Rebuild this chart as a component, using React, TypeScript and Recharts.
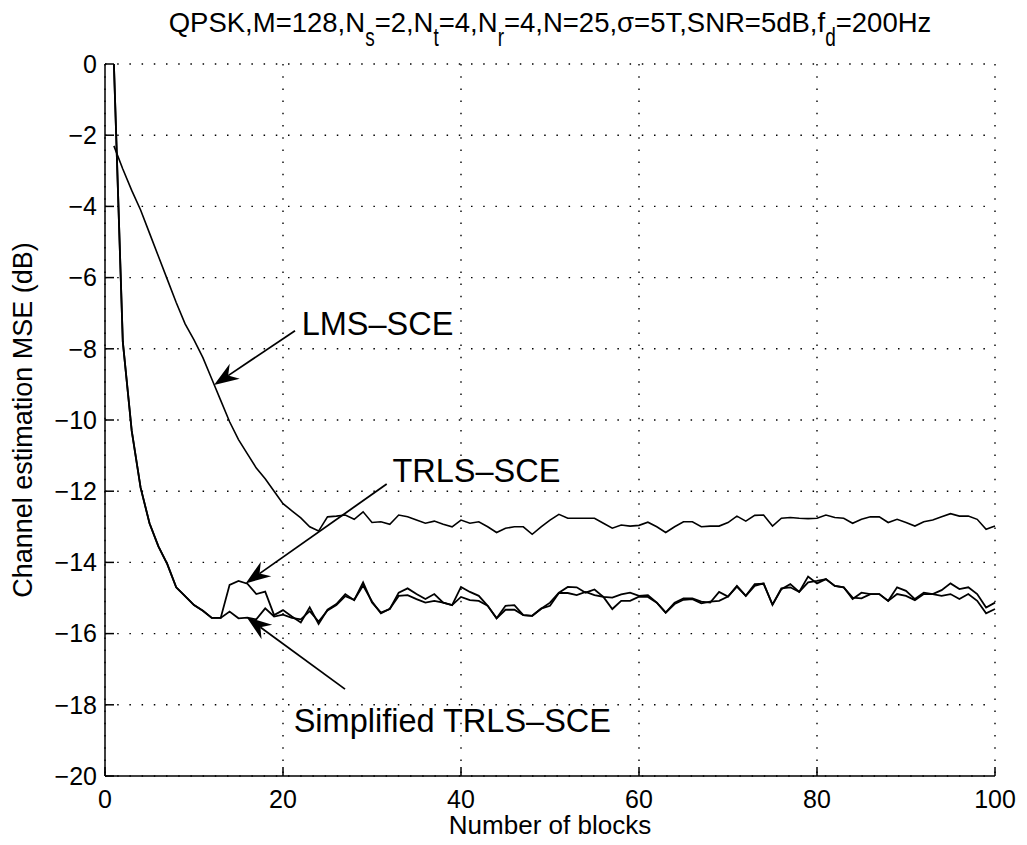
import { CartesianGrid, Line, LineChart, ReferenceDot, ReferenceLine, XAxis, YAxis } from "recharts";

// block index 1..100
const BLOCKS = Array.from({ length: 100 }, (_, i) => i + 1);

const LMS_SCE = [
  -2.3, -2.95, -3.55, -4.1, -4.75, -5.4, -6.05, -6.7, -7.3, -7.75,
  -8.25, -8.85, -9.45, -10.05, -10.55, -10.95, -11.35, -11.65, -12.0, -12.35,
  -12.55, -12.75, -13.0, -13.12, -12.72, -12.7, -12.67, -12.79, -12.58, -12.88,
  -12.86, -12.93, -12.67, -12.72, -12.81, -12.9, -12.84, -12.93, -13.0, -12.81,
  -12.9, -12.86, -13.0, -13.16, -13.04, -13.0, -13.0, -13.21, -13.0, -12.81,
  -12.65, -12.76, -12.76, -12.76, -12.76, -12.9, -13.04, -12.95, -12.98, -12.96,
  -12.87, -13.0, -13.16, -13.0, -12.86, -12.86, -13.0, -12.98, -12.98, -12.88,
  -12.7, -12.84, -12.68, -12.67, -12.98, -12.76, -12.74, -12.76, -12.77, -12.76,
  -12.67, -12.74, -12.76, -12.9, -12.79, -12.72, -12.72, -12.88, -12.79, -12.88,
  -12.98, -12.86, -12.81, -12.72, -12.63, -12.7, -12.7, -12.79, -13.07, -12.98,
];

const TRLS_SCE = [
  0, -7.8, -10.3, -11.9, -12.9, -13.55, -14.05, -14.7, -14.95, -15.2,
  -15.36, -15.56, -15.56, -14.63, -14.52, -14.6, -14.89, -14.82, -15.48, -15.34,
  -15.52, -15.69, -15.26, -15.73, -15.33, -15.17, -14.89, -15.06, -14.56, -15.13,
  -15.41, -15.31, -14.85, -14.73, -14.89, -15.03, -14.89, -15.13, -15.2, -14.69,
  -14.83, -14.94, -15.22, -15.57, -15.33, -15.33, -15.48, -15.5, -15.3, -15.13,
  -14.85, -14.69, -14.7, -14.85, -14.76, -14.97, -14.99, -14.9, -14.85, -14.94,
  -14.92, -15.13, -15.41, -15.13, -15.01, -15.01, -15.1, -15.13, -14.83, -14.96,
  -14.66, -14.94, -14.66, -14.59, -15.19, -14.75, -14.61, -14.83, -14.4, -14.59,
  -14.47, -14.66, -14.7, -15.03, -14.85, -14.89, -14.89, -15.08, -14.7, -14.8,
  -15.03, -14.85, -14.89, -14.78, -14.59, -14.75, -14.7, -14.89, -15.27, -15.13,
];

const SIMPLIFIED_TRLS_SCE = [
  0, -7.8, -10.3, -11.9, -12.9, -13.55, -14.05, -14.7, -14.95, -15.2,
  -15.36, -15.56, -15.56, -15.38, -15.57, -15.55, -15.6, -15.29, -15.52, -15.47,
  -15.56, -15.6, -15.37, -15.66, -15.35, -15.2, -14.95, -15.05, -14.65, -15.1,
  -15.43, -15.3, -14.94, -14.92, -15.03, -15.13, -15.08, -15.13, -15.2, -14.97,
  -15.06, -15.08, -15.22, -15.57, -15.22, -15.2, -15.48, -15.5, -15.3, -15.22,
  -14.86, -14.86, -14.92, -14.83, -14.92, -14.97, -15.31, -15.08, -15.08, -14.96,
  -14.97, -15.13, -15.41, -15.17, -15.05, -15.03, -15.15, -15.1, -15.08, -14.96,
  -14.68, -14.94, -14.61, -14.6, -15.19, -14.73, -14.7, -14.83, -14.56, -14.52,
  -14.47, -14.66, -14.7, -14.99, -15.01, -14.89, -14.89, -15.08, -14.89, -14.94,
  -15.06, -14.89, -14.89, -14.94, -14.89, -15.03, -14.89, -15.08, -15.43, -15.31,
];

const X_TICKS = [0, 20, 40, 60, 80, 100];
const Y_TICKS = [0, -2, -4, -6, -8, -10, -12, -14, -16, -18, -20];

// annotation: text anchor and arrow (tail -> tip), all in data units
const NOTES = [
  { text: "LMS–SCE", at: [22.1, -7.6], tail: [21.35, -7.49], tip: [12.25, -9.02] },
  { text: "TRLS–SCE", at: [32.3, -11.73], tail: [31.65, -11.8], tip: [15.8, -14.59] },
  { text: "Simplified TRLS–SCE", at: [21.2, -18.76], tail: [26.97, -17.56], tip: [15.92, -15.54] },
];

const data = BLOCKS.map((n, i) => ({
  n,
  lms: LMS_SCE[i],
  trls: TRLS_SCE[i],
  simp: SIMPLIFIED_TRLS_SCE[i],
}));

const FONT = "'Liberation Sans', Arial, Helvetica, sans-serif";
const minus = (v: number) => String(v).replace("-", "\u2212");

function Arrow(props: any) {
  const { x1, y1, x2, y2 } = props;
  const a = Math.atan2(y2 - y1, x2 - x1);
  const c = Math.cos(a);
  const s = Math.sin(a);
  const len = 25;
  const half = 9;
  const notch = 17;
  const bx = x2 - len * c;
  const by = y2 - len * s;
  const pts = [
    [x2, y2],
    [bx - half * s, by + half * c],
    [x2 - notch * c, y2 - notch * s],
    [bx + half * s, by - half * c],
  ];
  return (
    <g>
      <line x1={x1} y1={y1} x2={x2 - notch * c} y2={y2 - notch * s} stroke="#000" strokeWidth={1.8} />
      <polygon points={pts.map((p) => p.join(",")).join(" ")} fill="#000" />
    </g>
  );
}

function Sub({ children }: { children: string }) {
  return (
    <span
      style={{
        display: "inline-block",
        fontSize: 19,
        position: "relative",
        top: 12,
        transform: "scaleY(1.35)",
      }}
    >
      {children}
    </span>
  );
}

export default function App() {
  return (
    <div style={{ position: "absolute", left: 0, top: 0, width: 1027, height: 845, background: "#fff", fontFamily: FONT }}>
      <div
        style={{
          position: "absolute",
          left: 105,
          width: 890,
          top: 9,
          textAlign: "center",
          fontSize: 27.5,
          lineHeight: "27px",
          whiteSpace: "nowrap",
          color: "#000",
        }}
      >
        QPSK,M=128,N<Sub>s</Sub>=2,N<Sub>t</Sub>=4,N<Sub>r</Sub>=4,N=25,σ=5T,SNR=5dB,f<Sub>d</Sub>=200Hz
      </div>
      <div
        style={{
          position: "absolute",
          left: 23,
          top: 420,
          transform: "translate(-50%, -50%) rotate(-90deg)",
          fontSize: 27,
          whiteSpace: "nowrap",
          color: "#000",
        }}
      >
        Channel estimation MSE (dB)
      </div>
      <LineChart
        width={1027}
        height={845}
        data={data}
        margin={{ top: 64, right: 32, left: 0, bottom: 0 }}
        style={{ fontFamily: FONT }}
      >
        <CartesianGrid stroke="#000" strokeWidth={1.4} strokeDasharray="1.5 10.7" />
        <XAxis
          dataKey="n"
          type="number"
          domain={[0, 100]}
          ticks={X_TICKS}
          height={69}
          stroke="#000"
          strokeWidth={1.5}
          tickSize={-9}
          tickMargin={23}
          tick={{ fill: "#000", fontSize: 25 }}
          label={{ value: "Number of blocks", position: "insideBottom", offset: 11, fill: "#000", fontSize: 26 }}
        />
        <XAxis
          xAxisId="top"
          orientation="top"
          dataKey="n"
          type="number"
          domain={[0, 100]}
          ticks={X_TICKS}
          height={0}
          stroke="#000"
          strokeWidth={1.5}
          tickSize={-9}
          tick={false}
        />
        <YAxis
          type="number"
          domain={[-20, 0]}
          ticks={Y_TICKS}
          allowDataOverflow
          width={105}
          stroke="#000"
          strokeWidth={1.5}
          tickSize={-9}
          tickMargin={17}
          tickFormatter={minus}
          tick={{ fill: "#000", fontSize: 25 }}
        />
        <YAxis
          yAxisId="right"
          orientation="right"
          type="number"
          domain={[-20, 0]}
          ticks={Y_TICKS}
          width={0}
          stroke="#000"
          strokeWidth={1.5}
          tickSize={-9}
          tick={false}
        />
        <Line dataKey="lms" type="linear" stroke="#000" strokeWidth={1.6} dot={false} isAnimationActive={false} />
        <Line dataKey="trls" type="linear" stroke="#000" strokeWidth={1.8} dot={false} isAnimationActive={false} />
        <Line dataKey="simp" type="linear" stroke="#000" strokeWidth={1.8} dot={false} isAnimationActive={false} />
        {NOTES.map((a) => (
          <ReferenceLine
            key={a.text + "-arrow"}
            segment={[
              { x: a.tail[0], y: a.tail[1] },
              { x: a.tip[0], y: a.tip[1] },
            ]}
            shape={Arrow}
          />
        ))}
        {NOTES.map((a) => (
          <ReferenceDot
            key={a.text}
            x={a.at[0]}
            y={a.at[1]}
            r={0}
            shape={(p: any) => (
              <text x={p.cx} y={p.cy} fontSize={32.5} fill="#000" fontFamily={FONT}>
                {a.text}
              </text>
            )}
          />
        ))}
      </LineChart>
    </div>
  );
}
